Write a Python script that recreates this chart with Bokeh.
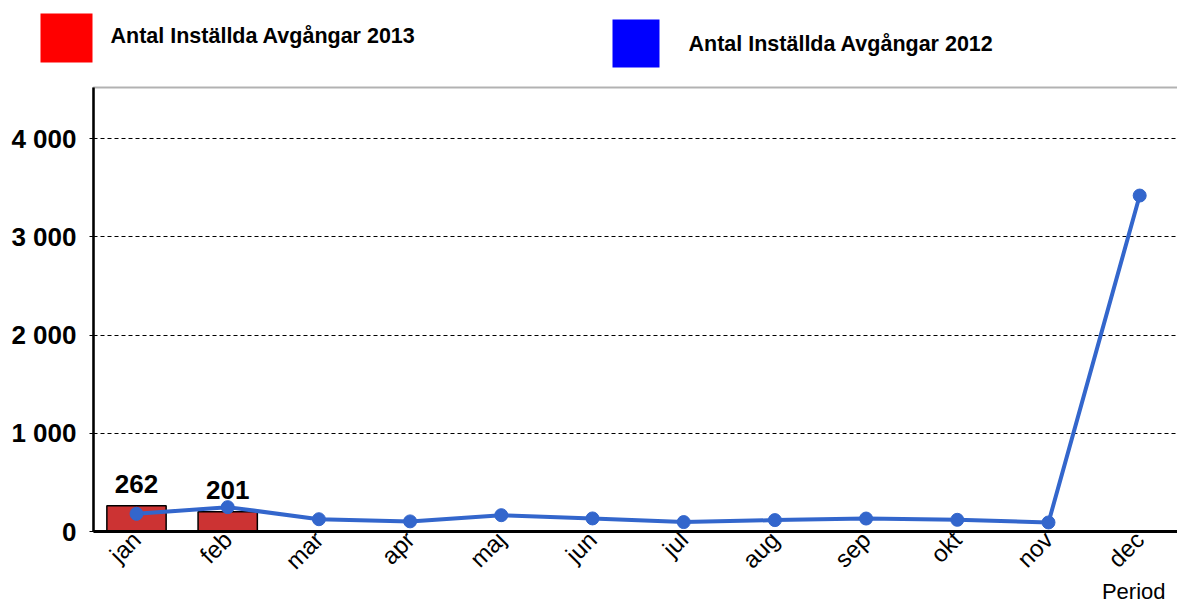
from bokeh.plotting import figure
from bokeh.models import (ColumnDataSource, Range1d, FixedTicker, LabelSet,
                          BoxAnnotation)
from bokeh.embed import file_html
from bokeh.resources import INLINE
from bokeh.core.properties import value

months = ["jan", "feb", "mar", "apr", "maj", "jun", "jul", "aug", "sep", "okt", "nov", "dec"]
values_2013 = [262, 201]
values_2012 = [180, 248, 125, 103, 166, 133, 96, 116, 132, 119, 92, 3420]
y_ticks = [0, 1000, 2000, 3000, 4000]
y_tick_labels = ["0", "1 000", "2 000", "3 000", "4 000"]
legend_labels = ["Antal Inställda Avgångar 2013", "Antal Inställda Avgångar 2012"]
legend_colors = ["#FF0000", "#0000FF"]
x_title = "Period"
y_top = 4520

FONT = "Liberation Sans"
W, H = 1177, 605

# pixel geometry of the plot area (canvas pixels)
AX_LEFT, AX_BOTTOM, AX_TOP = 93, 531, 87
CAT_PX = 91.2          # pixels per category
FIRST_CAT_PX = 136     # centre of first category
SY = (AX_BOTTOM - AX_TOP) / y_top   # pixels per unit

def xd(px):
    return (px - FIRST_CAT_PX) / CAT_PX

def yd(py):
    return (AX_BOTTOM - py) / SY

idx = list(range(len(months)))
src13 = ColumnDataSource(dict(x=idx[:len(values_2013)], y=values_2013,
                              lbl=[str(v) for v in values_2013]))
src12 = ColumnDataSource(dict(x=idx, y=values_2012))

p = figure(width=W, height=H, output_backend="svg", toolbar_location=None,
           x_range=Range1d(xd(0), xd(W)), y_range=Range1d(yd(H), yd(0)),
           min_border=0, min_border_left=0, min_border_right=0,
           min_border_top=0, min_border_bottom=0)
p.outline_line_color = None

# plot-area border (top and left edges visible)
p.add_layout(BoxAnnotation(left=xd(AX_LEFT), right=xd(W + 20), bottom=0, top=y_top,
                           fill_color=None, line_color="black", line_width=2))

p.vbar(x="x", top="y", width=0.65, source=src13, fill_color="#CC3333",
       line_color="black", line_width=1.5)
p.line(x="x", y="y", source=src12, line_color="#3366CC", line_width=4)
p.scatter(x="x", y="y", source=src12, size=13, fill_color="#3366CC",
          line_color="#3366CC")

p.add_layout(LabelSet(x="x", y="y", text="lbl", source=src13, text_align="center",
                      text_baseline="alphabetic", y_offset=13,
                      text_font=value(FONT), text_font_size="26px",
                      text_font_style="bold", text_color="black"))

# x axis
xa = p.xaxis[0]
xa.fixed_location = 0
xa.bounds = (xd(AX_LEFT), xd(W))
xa.ticker = FixedTicker(ticks=idx)
xa.major_label_overrides = {i: m for i, m in zip(idx, months)}
xa.major_label_orientation = 0.785398
xa.major_label_text_font = FONT
xa.major_label_text_font_size = "24px"
xa.major_label_text_color = "black"
xa.major_tick_line_color = None
xa.major_tick_out = 0
xa.major_tick_in = 0
xa.minor_tick_line_color = None
xa.axis_line_color = "black"
xa.axis_line_width = 3
xa.major_label_standoff = 4

# y axis
ya = p.yaxis[0]
yticker = FixedTicker(ticks=y_ticks)
ya.fixed_location = xd(AX_LEFT)
ya.bounds = (0, y_top)
ya.ticker = yticker
ya.major_label_overrides = {t: l for t, l in zip(y_ticks, y_tick_labels)}
ya.major_label_text_font = FONT
ya.major_label_text_font_size = "26px"
ya.major_label_text_font_style = "bold"
ya.major_label_text_color = "black"
ya.major_tick_out = 4
ya.major_tick_in = 0
ya.major_tick_line_color = "black"
ya.minor_tick_line_color = None
ya.axis_line_color = "black"
ya.axis_line_width = 2.5
ya.major_label_standoff = 13

p.xgrid.grid_line_color = None
yg = p.ygrid[0]
yg.ticker = yticker
yg.grid_line_color = "black"
yg.grid_line_dash = "4 3"
yg.grid_line_width = 1
if "cross_bounds" in yg.properties():
    yg.cross_bounds = (xd(AX_LEFT), xd(W))

# x title
p.text(x=[xd(1165)], y=[yd(591)], text=[x_title], text_align="right",
       text_baseline="middle", text_font=value(FONT), text_font_size="22px",
       text_color="black")

# legend
leg_src = ColumnDataSource(dict(
    left=[xd(40), xd(612)], right=[xd(92), xd(659)],
    top=[yd(13), yd(19)], bottom=[yd(62), yd(67)],
    color=legend_colors, tx=[xd(110), xd(688)], ty=[yd(35), yd(43)],
    label=legend_labels))
p.quad(left="left", right="right", top="top", bottom="bottom", source=leg_src,
       fill_color="color", line_color=None)
p.text(x="tx", y="ty", text="label", source=leg_src, text_align="left",
       text_baseline="middle", text_font=value(FONT), text_font_size="21.5px",
       text_font_style="bold", text_color="black")

open("out.html", "w").write(file_html(p, INLINE))
